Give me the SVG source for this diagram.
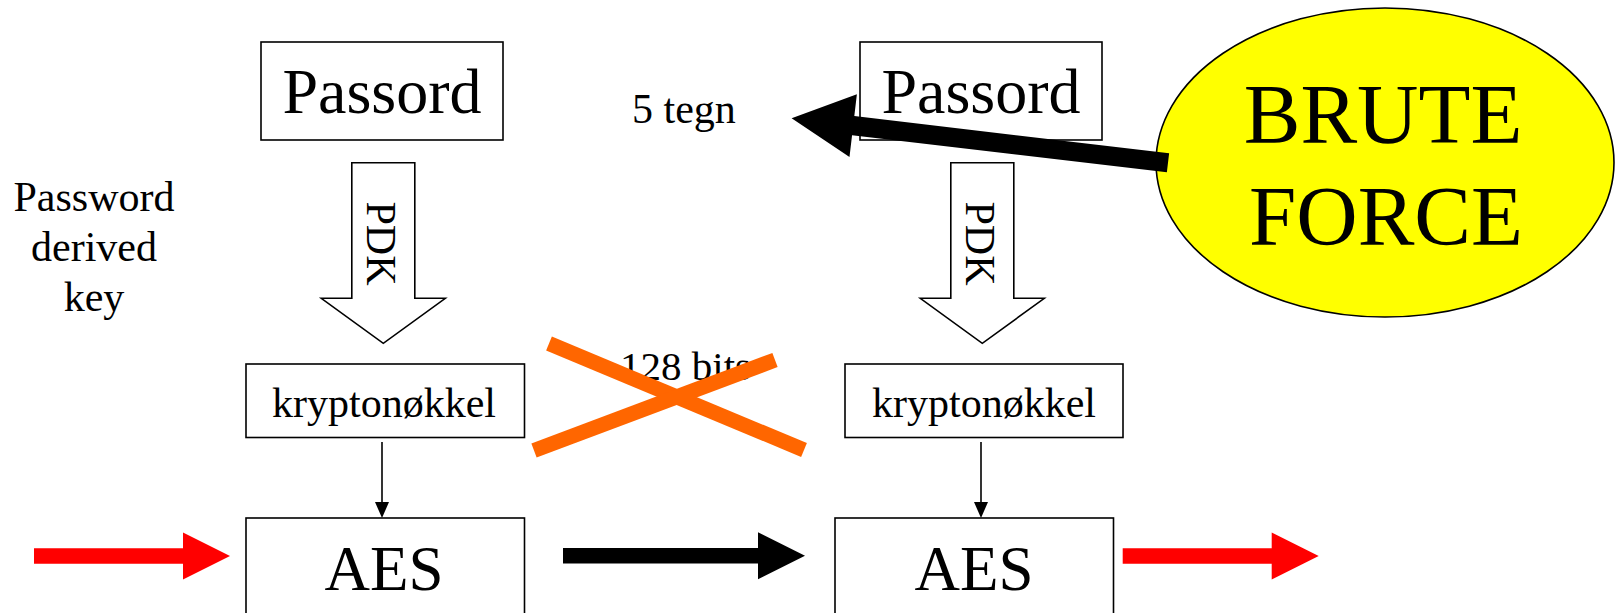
<svg xmlns="http://www.w3.org/2000/svg" width="1615" height="613" viewBox="0 0 1615 613">
<style>
.box{fill:#fff;stroke:#000;stroke-width:1.6}
.big{font-size:64px;text-anchor:middle}
.sm{font-size:42px}
.mid{text-anchor:middle}
.blk{fill:none;stroke:#000;stroke-width:1.6}
</style>
<defs>
<polygon id="pdk" points="-31.5,0 31.5,0 31.5,135.6 62,135.6 0,180.6 -62,135.6 -31.5,135.6" fill="#fff" stroke="#000" stroke-width="1.6"/>
<polygon id="blockArrow" points="0,-7.8 149,-7.8 149,-23.5 196,0 149,23.5 149,7.8 0,7.8"/>
<polygon id="blockArrowLong" points="0,-7.8 195,-7.8 195,-23.5 242,0 195,23.5 195,7.8 0,7.8"/>
</defs>
<rect width="1615" height="613" fill="#fff"/>

<g font-family="Liberation Serif, Times New Roman, DejaVu Serif, serif" fill="#000">
<g id="label-pdk-text">
<text class="sm mid" x="94" y="211">Password</text>
<text class="sm mid" x="94" y="261">derived</text>
<text class="sm mid" x="94" y="311">key</text>
</g>

<g id="passord-left">
<rect class="box" x="261" y="42" width="242" height="98"/>
<text class="big" x="382" y="113">Passord</text>
</g>
<g id="passord-right">
<rect class="box" x="860" y="42" width="242" height="98"/>
<text class="big" x="981" y="113">Passord</text>
</g>
<g id="label-5tegn">
<text class="sm" x="632" y="123">5 tegn</text>
</g>

<g id="brute-force">
<ellipse cx="1385" cy="162.5" rx="229" ry="154.5" fill="#ffff00" stroke="#000" stroke-width="1.6"/>
<text class="mid" x="1383" y="143" font-size="85">BRUTE</text>
<text class="mid" x="1386" y="245" font-size="85">FORCE</text>
</g>

<g id="krypto-left">
<rect class="box" x="246" y="364" width="278.5" height="73.5"/>
<text class="sm mid" x="384" y="417">kryptonøkkel</text>
</g>
<g id="krypto-right">
<rect class="box" x="845" y="364" width="278" height="73.5"/>
<text class="sm mid" x="984" y="417">kryptonøkkel</text>
</g>

<g id="aes-left">
<rect class="box" x="246" y="518" width="278.5" height="120"/>
<text class="mid" x="384" y="590" font-size="63">AES</text>
</g>
<g id="aes-right">
<rect class="box" x="835" y="518" width="278.5" height="120"/>
<text class="mid" x="974" y="590" font-size="63">AES</text>
</g>

<g id="label-128">
<text x="620" y="380" font-size="41">128 bits</text>
</g>

<g id="connectors">
<use href="#pdk" x="383.3" y="162.7"/>
<text class="mid" font-size="42" transform="translate(367,243.5) rotate(90)">PDK</text>
<use href="#pdk" x="982.3" y="162.7"/>
<text class="mid" font-size="42" transform="translate(966,243.5) rotate(90)">PDK</text>

<line class="blk" x1="382" y1="442" x2="382" y2="504"/>
<polygon points="375,502 389,502 382,518" fill="#000"/>
<line class="blk" x1="981" y1="442" x2="981" y2="504"/>
<polygon points="974,502 988,502 981,518" fill="#000"/>

<use href="#blockArrow" x="34" y="556" fill="#ff0000"/>
<use href="#blockArrowLong" x="563" y="555.7" fill="#000"/>
<use href="#blockArrow" x="1122.7" y="556" fill="#ff0000"/>

<g transform="translate(1168,162.8) rotate(6.74)">
<polygon points="0,-9.6 -317,-9.6 -317,-31.5 -379,0 -317,31.5 -317,9.6 0,9.6" fill="#000"/>
</g>

<g id="cross" stroke="#ff6600" stroke-width="15" stroke-linecap="butt">
<line x1="549" y1="343.5" x2="804" y2="450"/>
<line x1="534" y1="450.5" x2="775" y2="360"/>
</g>
</g>
</g>
</svg>
